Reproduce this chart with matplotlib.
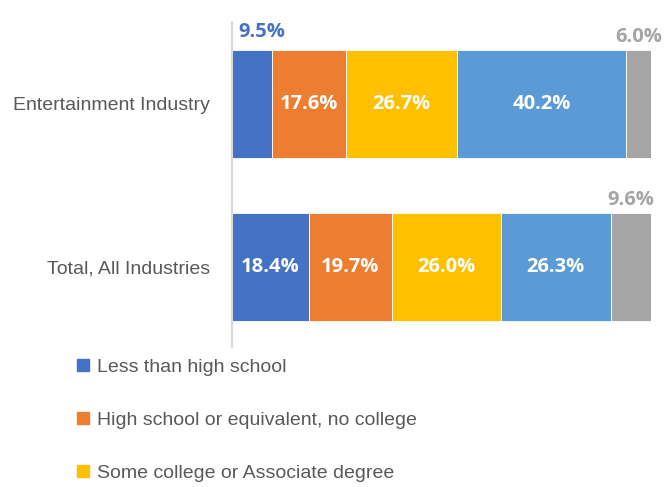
import matplotlib
matplotlib.use("Agg")
import matplotlib.pyplot as plt
from matplotlib.patches import Patch
from matplotlib import font_manager

categories = ["Total, All Industries", "Entertainment Industry"]
series_names = ["Less than high school",
                "High school or equivalent, no college",
                "Some college or Associate degree",
                "Bachelor's degree",
                "Graduate degree"]
values = {
    "Less than high school": [18.4, 9.5],
    "High school or equivalent, no college": [19.7, 17.6],
    "Some college or Associate degree": [26.0, 26.7],
    "Bachelor's degree": [26.3, 40.2],
    "Graduate degree": [9.6, 6.0],
}
colors = ["#4472C4", "#ED7D31", "#FFC000", "#5B9BD5", "#A5A5A5"]

names = {f.name for f in font_manager.fontManager.ttflist}
narrow = "Liberation Sans Narrow" if "Liberation Sans Narrow" in names else "Liberation Sans"
bold_font = "Open Sans" if "Open Sans" in names else "DejaVu Sans"

fig = plt.figure(figsize=(6.7, 4.87), dpi=100)
ax = fig.add_axes([232/670, 1-347/487, (651-232)/670, 325/487])

ypos = list(range(len(categories)))
bar_h = 0.663
left = [0.0]*len(categories)
handles = []
for i, name in enumerate(series_names):
    vals = values[name]
    ax.barh(ypos, vals, left=left, height=bar_h, color=colors[i],
            edgecolor="white", linewidth=0.6)
    handles.append(Patch(color=colors[i], label=name))
    for j, (v, l) in enumerate(zip(vals, left)):
        cx = l + v/2
        if v < 12:
            dx, dy = (7, 6) if i == 0 else (0, 2)
            ax.annotate(f"{v:.1f}%", xy=(cx, ypos[j] + bar_h/2), xytext=(dx, dy),
                        textcoords="offset points", ha="center", va="bottom",
                        color=colors[i], fontsize=14.5, fontweight="bold",
                        family=bold_font)
        else:
            ax.text(cx, ypos[j], f"{v:.1f}%", ha="center", va="center",
                    color="white", fontsize=14.5, fontweight="bold",
                    family=bold_font)
    left = [a + b for a, b in zip(left, vals)]

ax.set_xlim(0, 100)
ax.set_ylim(-0.491, 1.503)
ax.set_yticks(ypos)
ax.set_yticklabels(categories, fontsize=14, color="#595959", family=narrow)
ax.set_xticks([])
ax.tick_params(axis="y", length=0, pad=16)
for s in ["top", "right", "bottom"]:
    ax.spines[s].set_visible(False)
ax.spines["left"].set_color("#D9D9D9")
ax.spines["left"].set_linewidth(1.5)

fig.legend(handles=handles[:3], loc="upper left",
           bbox_to_anchor=(59/670, 1-341/487), frameon=False,
           prop={"family": narrow, "size": 14}, labelcolor="#595959",
           handlelength=0.62, handleheight=0.62, handletextpad=0.45,
           labelspacing=1.85)

fig.savefig("out.png", dpi=100)
